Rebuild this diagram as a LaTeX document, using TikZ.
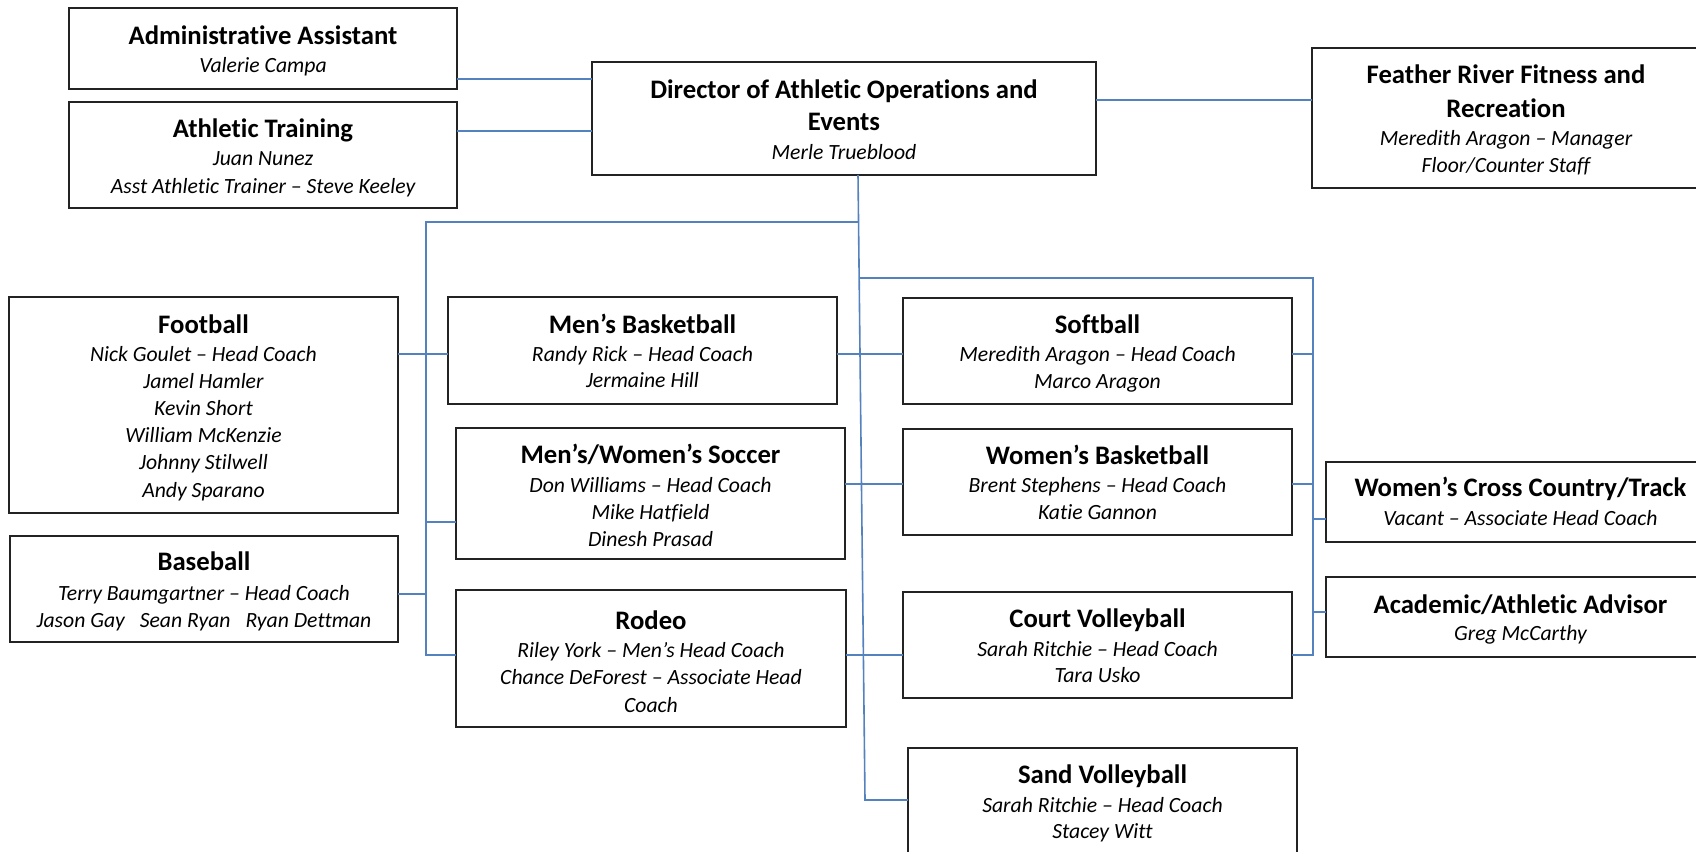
\documentclass[tikz,border=0pt]{standalone}
\usepackage{fontspec}
\setmainfont{Carlito}[Ligatures=NoCommon]
\usetikzlibrary{calc}
\definecolor{linkblue}{RGB}{84,130,190}
\definecolor{boxline}{RGB}{35,35,35}
\tikzset{
  orgbox/.style={draw=boxline, line width=2pt, fill=white, inner sep=0pt, outer sep=0pt},
  hd/.style={anchor=base, inner sep=0pt, font=\fontsize{26.7}{32}\selectfont\bfseries},
  nm/.style={anchor=base, inner sep=0pt, font=\fontsize{21.7}{27}\selectfont\itshape},
  link/.style={draw=linkblue, line width=1.6pt},
}
% name, centre x, first baseline, line step, list of italic lines
\newcommand\staffrows[5]{%
  \foreach \entry [count=\i] in {#5} {\node[nm] (#1-\i) at ({#2},{#3+(\i-1)*#4}) {\entry};}}
\begin{document}
\begin{tikzpicture}[x=1pt,y=-1pt]
\useasboundingbox (0,0) rectangle (1696,851);
\clip (0,0) rectangle (1696,851);

% ---- boxes ----
\node[orgbox, minimum width=388pt, minimum height=81pt]  (admin) at (263,48.5) {};
\node[orgbox, minimum width=388pt, minimum height=106pt] (train) at (263,155) {};
\node[orgbox, minimum width=504pt, minimum height=113pt] (dir)   at (844,118.5) {};
\node[orgbox, minimum width=388pt, minimum height=140pt] (frc)   at (1506,118) {};
\node[orgbox, minimum width=389pt, minimum height=216pt] (foot)  at (203.5,405) {};
\node[orgbox, minimum width=388pt, minimum height=106pt] (base)  at (204,589) {};
\node[orgbox, minimum width=389pt, minimum height=107pt] (mbb)   at (642.5,350.5) {};
\node[orgbox, minimum width=389pt, minimum height=131pt] (soc)   at (650.5,493.5) {};
\node[orgbox, minimum width=390pt, minimum height=137pt] (rod)   at (651,658.5) {};
\node[orgbox, minimum width=389pt, minimum height=106pt] (soft)  at (1097.5,351) {};
\node[orgbox, minimum width=389pt, minimum height=106pt] (wbb)   at (1097.5,482) {};
\node[orgbox, minimum width=389pt, minimum height=106pt] (cvb)   at (1097.5,645) {};
\node[orgbox, minimum width=389pt, minimum height=112pt] (svb)   at (1102.5,804) {};
\node[orgbox, minimum width=389pt, minimum height=80pt]  (xc)    at (1520.5,502) {};
\node[orgbox, minimum width=389pt, minimum height=80pt]  (adv)   at (1520.5,617) {};

% ---- texts ----
\node[hd] (admin-t) at (263,45) {Administrative Assistant};
\staffrows{admin}{263}{73}{28}{Valerie Campa}

\node[hd] (train-t) at (263,137) {Athletic Training};
\staffrows{train}{263}{165}{28}{Juan Nunez, Asst Athletic Trainer – Steve Keeley}

\node[hd] (dir-t) at (844,98) {Director of Athletic Operations and};
\node[hd] (dir-u) at (844,130) {Events};
\staffrows{dir}{844}{159}{27}{Merle Trueblood}

\node[hd] (frc-t) at (1506,83) {Feather River Fitness and};
\node[hd] (frc-u) at (1506,117) {Recreation};
\staffrows{frc}{1506}{145}{27}{Meredith Aragon – Manager, Floor/Counter Staff}

\node[hd] (foot-t) at (203.5,333) {Football};
\staffrows{foot}{203.5}{361}{27.2}{Nick Goulet – Head Coach, Jamel Hamler, Kevin Short, William McKenzie, Johnny Stilwell, Andy Sparano}

\node[hd] (base-t) at (204,570) {Baseball};
\staffrows{base}{204}{600}{27}{Terry Baumgartner – Head Coach, Jason Gay\hspace{10pt} Sean Ryan\hspace{10pt} Ryan Dettman}

\node[hd] (mbb-t) at (642.5,333) {Men’s Basketball};
\staffrows{mbb}{642.5}{361}{26.5}{Randy Rick – Head Coach, Jermaine Hill}

\node[hd] (soc-t) at (650.5,463) {Men’s/Women’s Soccer};
\staffrows{soc}{650.5}{492}{27}{Don Williams – Head Coach, Mike Hatfield, Dinesh Prasad}

\node[hd] (rod-t) at (651,629) {Rodeo};
\staffrows{rod}{651}{657}{27.5}{Riley York – Men’s Head Coach, Chance DeForest – Associate Head, Coach}

\node[hd] (soft-t) at (1097.5,333) {Softball};
\staffrows{soft}{1097.5}{361}{27}{Meredith Aragon – Head Coach, Marco Aragon}

\node[hd] (wbb-t) at (1097.5,464) {Women’s Basketball};
\staffrows{wbb}{1097.5}{492}{27}{Brent Stephens – Head Coach, Katie Gannon}

\node[hd] (cvb-t) at (1097.5,627) {Court Volleyball};
\staffrows{cvb}{1097.5}{656}{26.5}{Sarah Ritchie – Head Coach, Tara Usko}

\node[hd] (svb-t) at (1102.5,783) {Sand Volleyball};
\staffrows{svb}{1102.5}{812}{26.5}{Sarah Ritchie – Head Coach, Stacey Witt}

\node[hd] (xc-t) at (1520.5,496) {Women’s Cross Country/Track};
\staffrows{xc}{1520.5}{525}{27}{Vacant – Associate Head Coach}

\node[hd] (adv-t) at (1520.5,613) {Academic/Athletic Advisor};
\staffrows{adv}{1520.5}{640}{27}{Greg McCarthy}

% ---- junction points of the trunk and the two buses ----
\coordinate (tkTop) at (858,175);
\coordinate (tkL)   at (858.5,222);
\coordinate (tkR)   at (859.3,278);
\coordinate (tkEnd) at (865,800);
\coordinate (lbTop) at (426,222);
\coordinate (lbBot) at (426,655);
\coordinate (rbTop) at (1313,278);
\coordinate (rbBot) at (1313,655);

% ---- connectors ----
\draw[link] (admin.east |- 0,79) -- (dir.west |- 0,79);
\draw[link] (train.east |- 0,131) -- (dir.west |- 0,131);
\draw[link] (dir.east |- 0,100) -- (frc.west |- 0,100);

\draw[link] (dir.south -| tkTop) -- (tkEnd) -- (svb.west |- tkEnd);
\draw[link] (tkL) -- (lbTop) -- (lbBot) -- (rod.west |- lbBot);
\draw[link] (tkR) -- (rbTop) -- (rbBot) -- (cvb.east |- rbBot);

\draw[link] (foot.east |- 0,354) -- (mbb.west |- 0,354);
\draw[link] (base.east |- 0,594) -- (lbTop |- 0,594);
\draw[link] (lbTop |- 0,522) -- (soc.west |- 0,522);

\draw[link] (mbb.east |- 0,354) -- (soft.west |- 0,354);
\draw[link] (soc.east |- 0,484) -- (wbb.west |- 0,484);
\draw[link] (rod.east |- 0,655) -- (cvb.west |- 0,655);

\draw[link] (soft.east |- 0,354) -- (rbTop |- 0,354);
\draw[link] (wbb.east |- 0,484) -- (rbTop |- 0,484);
\draw[link] (rbTop |- 0,519) -- (xc.west |- 0,519);
\draw[link] (rbTop |- 0,612) -- (adv.west |- 0,612);
\end{tikzpicture}
\end{document}
